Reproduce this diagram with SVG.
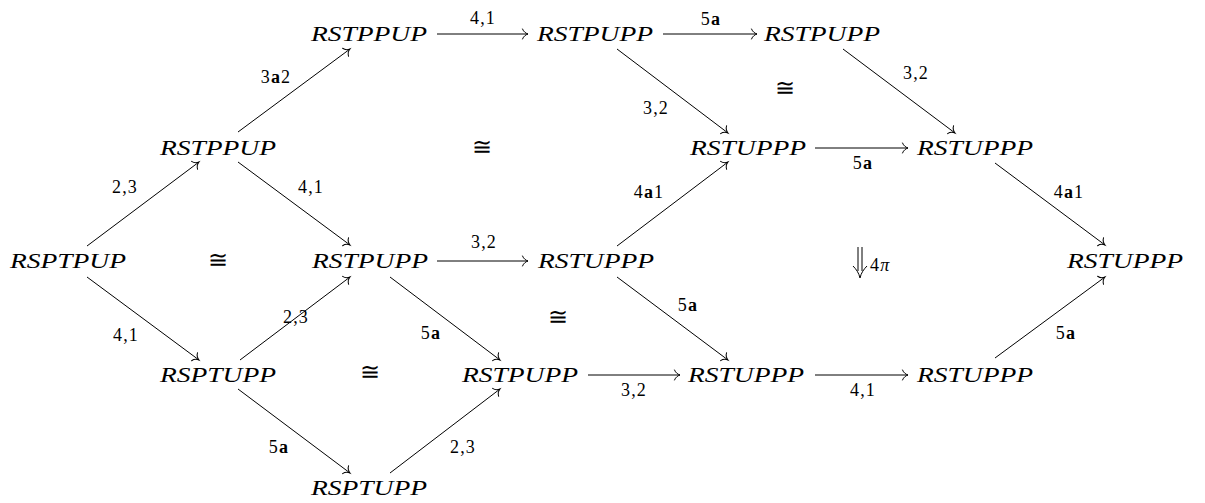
<svg xmlns="http://www.w3.org/2000/svg" width="1205" height="503" viewBox="0 0 1205 503">
<style>
.n{font-family:'Liberation Serif','DejaVu Serif',serif;font-style:italic;font-size:21px;fill:#000}
.l{font-family:'Liberation Serif','DejaVu Serif',serif;font-size:18px;letter-spacing:1.2px;fill:#000}
.b{font-weight:bold}
.c{font-family:'DejaVu Serif',serif;font-size:24px;fill:#000}
.e line{stroke:#000;stroke-width:1;fill:none;marker-end:url(#ah)}
</style>
<defs>
<marker id="ah" markerUnits="userSpaceOnUse" orient="auto" refX="0" refY="0" markerWidth="14" markerHeight="14" viewBox="-8 -7 10 14" overflow="visible">
<path d="M-5.5,-5 C-4.5,-2 -1.5,-0.4 0,0 C-1.5,0.4 -4.5,2 -5.5,5" fill="none" stroke="#000" stroke-width="1" stroke-linecap="round"/>
</marker>
</defs>
<rect width="1205" height="503" fill="#fff"/>
<g id="nodes" text-anchor="middle">
<g id="n1"><text class="n" x="68" y="268" textLength="116" lengthAdjust="spacingAndGlyphs">RSPTPUP</text></g>
<g id="n2"><text class="n" x="218" y="155" textLength="116" lengthAdjust="spacingAndGlyphs">RSTPPUP</text></g>
<g id="n3"><text class="n" x="218" y="382" textLength="116" lengthAdjust="spacingAndGlyphs">RSPTUPP</text></g>
<g id="n4"><text class="n" x="369" y="41" textLength="116" lengthAdjust="spacingAndGlyphs">RSTPPUP</text></g>
<g id="n5"><text class="n" x="370" y="268" textLength="116" lengthAdjust="spacingAndGlyphs">RSTPUPP</text></g>
<g id="n6"><text class="n" x="369" y="495" textLength="116" lengthAdjust="spacingAndGlyphs">RSPTUPP</text></g>
<g id="n7"><text class="n" x="595" y="41" textLength="116" lengthAdjust="spacingAndGlyphs">RSTPUPP</text></g>
<g id="n8"><text class="n" x="596" y="268" textLength="116" lengthAdjust="spacingAndGlyphs">RSTUPPP</text></g>
<g id="n9"><text class="n" x="520" y="382" textLength="116" lengthAdjust="spacingAndGlyphs">RSTPUPP</text></g>
<g id="n10"><text class="n" x="822" y="41" textLength="116" lengthAdjust="spacingAndGlyphs">RSTPUPP</text></g>
<g id="n11"><text class="n" x="748" y="155" textLength="116" lengthAdjust="spacingAndGlyphs">RSTUPPP</text></g>
<g id="n12"><text class="n" x="975" y="155" textLength="116" lengthAdjust="spacingAndGlyphs">RSTUPPP</text></g>
<g id="n13"><text class="n" x="746" y="382" textLength="116" lengthAdjust="spacingAndGlyphs">RSTUPPP</text></g>
<g id="n14"><text class="n" x="975" y="382" textLength="116" lengthAdjust="spacingAndGlyphs">RSTUPPP</text></g>
<g id="n15"><text class="n" x="1125" y="268" textLength="116" lengthAdjust="spacingAndGlyphs">RSTUPPP</text></g>
</g>
<g id="connectors" class="e">
<line x1="437" y1="34" x2="528" y2="34"/>
<line x1="663" y1="34" x2="757" y2="34"/>
<line x1="815" y1="148" x2="908" y2="148"/>
<line x1="437" y1="261" x2="528" y2="261"/>
<line x1="588" y1="375" x2="680" y2="375"/>
<line x1="815" y1="375" x2="908" y2="375"/>
<line x1="87" y1="246" x2="199" y2="162"/>
<line x1="87" y1="277" x2="199" y2="360"/>
<line x1="238" y1="132" x2="350" y2="49"/>
<line x1="238" y1="162" x2="350" y2="245"/>
<line x1="240" y1="360" x2="350" y2="277"/>
<line x1="238" y1="389" x2="350" y2="473"/>
<line x1="390" y1="277" x2="500" y2="360"/>
<line x1="390" y1="473" x2="500" y2="389"/>
<line x1="617" y1="49" x2="728" y2="133"/>
<line x1="617" y1="246" x2="728" y2="162"/>
<line x1="617" y1="277" x2="728" y2="360"/>
<line x1="843" y1="49" x2="955" y2="133"/>
<line x1="995" y1="163" x2="1105" y2="245"/>
<line x1="995" y1="358" x2="1105" y2="277"/>
</g>
<g id="labels" class="l" text-anchor="middle">
<text x="483" y="24">4,1</text>
<text x="711" y="25">5<tspan class="b">a</tspan></text>
<text x="916" y="79">3,2</text>
<text x="656" y="114">3,2</text>
<text x="276" y="83">3<tspan class="b">a</tspan>2</text>
<text x="125" y="193">2,3</text>
<text x="311" y="193">4,1</text>
<text x="863" y="169">5<tspan class="b">a</tspan></text>
<text x="484" y="248">3,2</text>
<text x="649" y="198">4<tspan class="b">a</tspan>1</text>
<text x="1069" y="198">4<tspan class="b">a</tspan>1</text>
<text x="688" y="311">5<tspan class="b">a</tspan></text>
<text x="431" y="339">5<tspan class="b">a</tspan></text>
<text x="1066" y="339">5<tspan class="b">a</tspan></text>
<text x="296" y="323">2,3</text>
<text x="126" y="341">4,1</text>
<text x="279" y="453">5<tspan class="b">a</tspan></text>
<text x="463" y="453">2,3</text>
<text x="634" y="396">3,2</text>
<text x="863" y="396">4,1</text>
</g>
<g id="cells" class="c" text-anchor="middle">
<text x="482" y="155">≅</text>
<text x="785" y="96">≅</text>
<text x="218" y="268">≅</text>
<text x="558" y="325">≅</text>
<text x="370" y="380">≅</text>
</g>
<g id="twocell">
<path d="M858,247 V271 M862,247 V271 M853,266 C856,269 859,273 860,278 C861,273 864,269 867,266" fill="none" stroke="#000" stroke-width="1"/>
<text x="870" y="271" class="l" letter-spacing="0">4<tspan font-style="italic">π</tspan></text>
</g>
</svg>
